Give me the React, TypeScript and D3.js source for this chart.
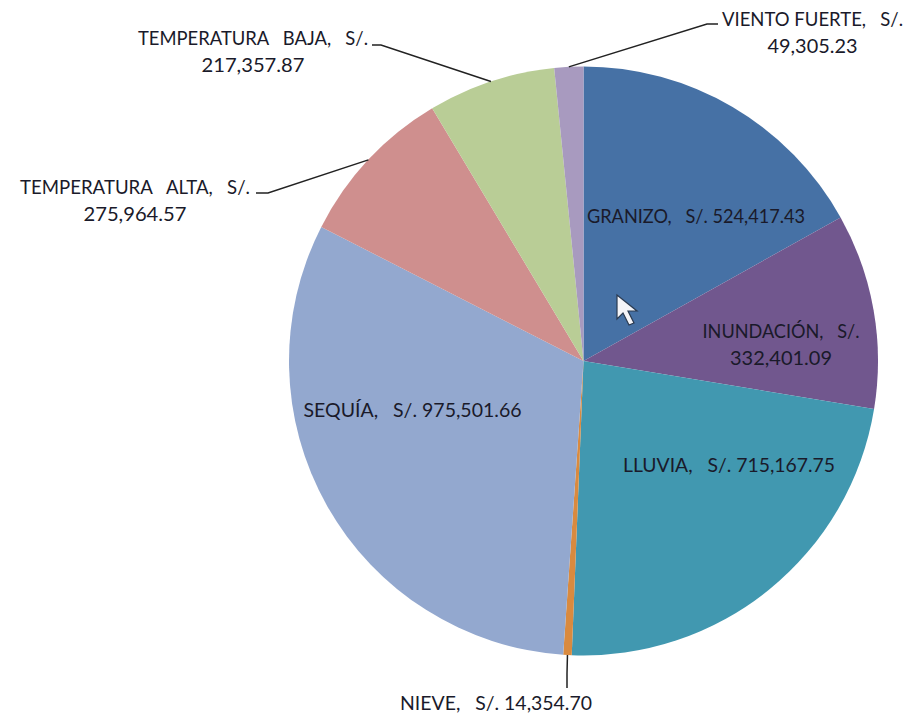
import React from 'react';
import * as d3 from 'd3';

const categories = ['GRANIZO', 'INUNDACIÓN', 'LLUVIA', 'NIEVE', 'SEQUÍA', 'TEMPERATURA ALTA', 'TEMPERATURA BAJA', 'VIENTO FUERTE'];
const amounts = [524417.43, 332401.09, 715167.75, 14354.7, 975501.66, 275964.57, 217357.87, 49305.23];
const labelLines = [
  ['GRANIZO,   S/. 524,417.43'],
  ['INUNDACIÓN,   S/.', '332,401.09'],
  ['LLUVIA,   S/. 715,167.75'],
  ['NIEVE,   S/. 14,354.70'],
  ['SEQUÍA,   S/. 975,501.66'],
  ['TEMPERATURA   ALTA,   S/.', '275,964.57'],
  ['TEMPERATURA   BAJA,   S/.', '217,357.87'],
  ['VIENTO FUERTE,   S/.', '49,305.23'],
];

// layout only, not data
const palette = ['#4671a5', '#71578e', '#4198b0', '#d98a3f', '#93a8cf', '#cf8f8e', '#b9cd96', '#a89abf'];
const labelAnchors: [number, number][] = [
  [696, 216], [781, 331], [729, 465], [496, 703], [412.5, 410], [135, 187], [253, 38], [812.5, 19],
];
const lineWidths = [[218], [157, 102], [212], [192], [218], [230, 103], [230, 103], [181, 90]];
// leader line: knee nearest the pie, then the end next to the label
const leaderKnees: ([number, number] | null)[] = [null, null, null, [567, 674], null, [268, 193], [381, 45], [707, 24]];
const leaderEnds: ([number, number] | null)[] = [null, null, null, [567, 688], null, [256, 193], [372, 45], [718, 24]];

const width = 916;
const height = 715;
const cx = 583.5;
const cy = 361;
const radius = 294.5;
const lineHeight = 27;

export default function App() {
  const pie = d3.pie<number>().sort(null).value(d => d);
  const arc = d3.arc<d3.PieArcDatum<number>>().innerRadius(0).outerRadius(radius);
  const slices = pie(amounts);

  const leaders = slices.map((s, i) => {
    if (!leaderKnees[i]) return null;
    // the leader starts on the rim, at the middle of its slice
    const a = (s.startAngle + s.endAngle) / 2;
    const rim: [number, number] = [cx + radius * Math.sin(a), cy - radius * Math.cos(a)];
    return d3.line()([rim, leaderKnees[i]!, leaderEnds[i]!]);
  });

  return (
    <svg width={width} height={height} style={{position: 'absolute', left: 0, top: 0, background: '#fff'}}
      fontFamily="Lato, 'Open Sans', sans-serif" fontSize={19.5}>
      <g transform={`translate(${cx},${cy})`}>
        {slices.map((s, i) => (
          <path key={categories[i]} d={arc(s)!} fill={palette[i]} />
        ))}
      </g>
      {leaders.map((d, i) => d && (
        <path key={i} d={d} fill="none" stroke="#222" strokeWidth={1.5} />
      ))}
      {labelLines.map((lines, i) => (
        <text key={i} textAnchor="middle" fill="#1a1a2a" style={{whiteSpace: 'pre'}}>
          {lines.map((line, j) => (
            <tspan key={j} x={labelAnchors[i][0]} y={labelAnchors[i][1] + j * lineHeight + 7}
              textLength={lineWidths[i][j]} lengthAdjust="spacingAndGlyphs">{line}</tspan>
          ))}
        </text>
      ))}
      {/* mouse pointer left in the screenshot */}
      <path d="M617,295 L617,319 L623,313 L629,325 L634,323 L628,311 L637,311 Z"
        fill="#f4f4f8" stroke="#2a3a50" strokeWidth={1.2} />
    </svg>
  );
}
